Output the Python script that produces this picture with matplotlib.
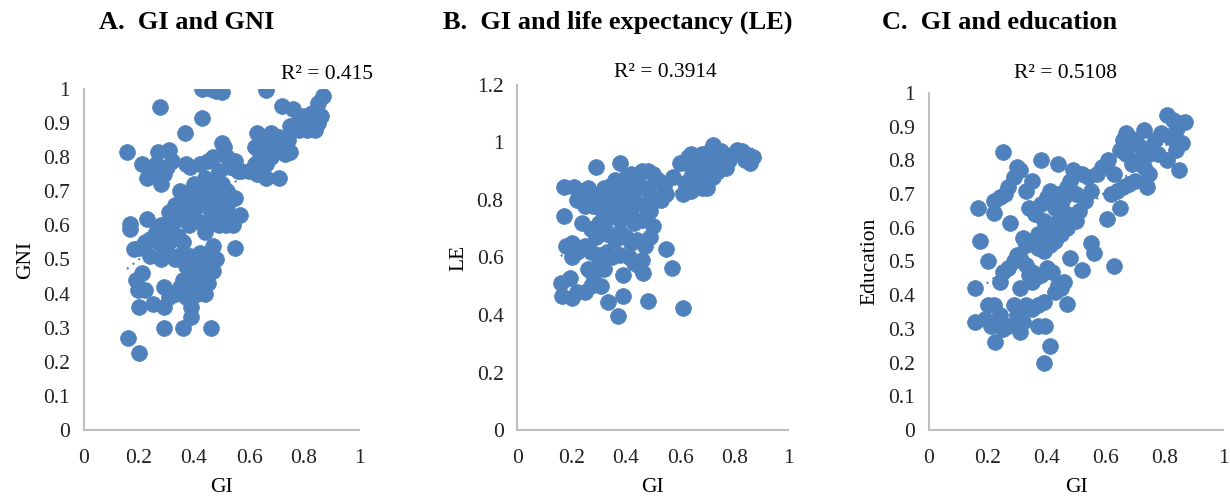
import matplotlib.pyplot as plt
import numpy as np

plt.rcParams['font.family'] = ['Liberation Serif', 'DejaVu Serif']

# ---------------- data ----------------
# A. GI and GNI
gi_a = [0.62, 0.63, 0.64, 0.65, 0.66, 0.67, 0.68, 0.68, 0.69, 0.70, 0.71, 0.72, 0.73, 0.66, 0.64, 0.62,
        0.66, 0.71, 0.75, 0.77, 0.78, 0.79, 0.80, 0.81, 0.82, 0.83, 0.84, 0.85, 0.86, 0.85, 0.87, 0.84,
        0.81, 0.78, 0.72, 0.76, 0.66, 0.74, 0.75,
        0.43, 0.46, 0.48, 0.50, 0.276, 0.43, 0.367,
        0.156, 0.21, 0.23, 0.25, 0.26, 0.27, 0.28, 0.30, 0.31, 0.32, 0.29,
        0.37, 0.385, 0.42, 0.45, 0.47, 0.50, 0.51, 0.52, 0.55, 0.57, 0.53, 0.49, 0.44, 0.40, 0.43, 0.46,
        0.48, 0.50, 0.52, 0.55, 0.56, 0.60, 0.63, 0.35, 0.37, 0.38, 0.40, 0.42, 0.44, 0.45, 0.46, 0.48,
        0.50, 0.52, 0.53, 0.345, 0.36, 0.38, 0.40, 0.42, 0.44, 0.47, 0.49, 0.515, 0.54, 0.567, 0.33,
        0.31, 0.39, 0.41,
        0.167, 0.167, 0.23, 0.26, 0.28, 0.30, 0.32, 0.34, 0.36, 0.31, 0.29, 0.27, 0.24, 0.22, 0.20, 0.18,
        0.24, 0.28, 0.30, 0.33, 0.34, 0.385, 0.40, 0.42, 0.45, 0.47, 0.48, 0.55, 0.37, 0.38, 0.40, 0.47,
        0.43, 0.36,
        0.19, 0.21, 0.22, 0.196, 0.20, 0.25, 0.29, 0.29, 0.31, 0.33, 0.35, 0.37, 0.39, 0.41, 0.42, 0.44,
        0.45, 0.39, 0.39, 0.29, 0.36, 0.46, 0.16, 0.20, 0.32]
gni = [0.83, 0.87, 0.84, 0.86, 0.82, 0.85, 0.87, 0.80, 0.84, 0.82, 0.86, 0.84, 0.81, 0.78, 0.80, 0.78,
       0.74, 0.74, 0.89, 0.89, 0.91, 0.90, 0.92, 0.90, 0.91, 0.93, 0.92, 0.90, 0.92, 0.96, 0.98, 0.88,
       0.88, 0.88, 0.95, 0.94, 0.997, 0.85, 0.815,
       1.0, 1.0, 0.995, 0.99, 0.947, 0.915, 0.87,
       0.815, 0.78, 0.74, 0.76, 0.78, 0.815, 0.72, 0.77, 0.82, 0.79, 0.75,
       0.78, 0.77, 0.78, 0.79, 0.80, 0.84, 0.83, 0.80, 0.79, 0.76, 0.77, 0.76, 0.74, 0.72, 0.70, 0.73,
       0.70, 0.72, 0.70, 0.68, 0.76, 0.76, 0.75, 0.70, 0.68, 0.66, 0.65, 0.66, 0.68, 0.66, 0.64, 0.67,
       0.64, 0.66, 0.63, 0.64, 0.62, 0.60, 0.62, 0.61, 0.58, 0.62, 0.60, 0.60, 0.60, 0.63, 0.66,
       0.64, 0.69, 0.71,
       0.605, 0.59, 0.62, 0.58, 0.60, 0.58, 0.60, 0.57, 0.55, 0.55, 0.53, 0.55, 0.56, 0.55, 0.535, 0.53,
       0.51, 0.50, 0.52, 0.50, 0.51, 0.51, 0.50, 0.52, 0.50, 0.54, 0.50, 0.535, 0.48, 0.46, 0.45, 0.465,
       0.47, 0.44,
       0.44, 0.46, 0.41, 0.41, 0.36, 0.37, 0.42, 0.36, 0.39, 0.40, 0.42, 0.39, 0.41, 0.40, 0.43, 0.40,
       0.43, 0.36, 0.33, 0.30, 0.30, 0.30, 0.27, 0.225, 0.40]

# B. GI and life expectancy
gi_b = [0.60, 0.62, 0.63, 0.64, 0.65, 0.66, 0.67, 0.68, 0.69, 0.70, 0.71, 0.72, 0.73, 0.74, 0.75, 0.76,
        0.78, 0.80, 0.81, 0.83, 0.85, 0.86, 0.87, 0.84, 0.62, 0.63, 0.64, 0.65, 0.66, 0.67, 0.68, 0.69,
        0.70, 0.71, 0.72, 0.73, 0.74, 0.75, 0.77, 0.61, 0.64, 0.70, 0.575,
        0.17, 0.21, 0.24, 0.26, 0.29, 0.38, 0.27, 0.30, 0.32, 0.34, 0.36, 0.38, 0.40, 0.42, 0.44, 0.46,
        0.48, 0.50, 0.52, 0.54, 0.55, 0.53, 0.35, 0.37, 0.39, 0.41, 0.43, 0.45, 0.47, 0.49, 0.51, 0.28,
        0.31, 0.33, 0.36, 0.40, 0.42, 0.44, 0.47, 0.49, 0.25, 0.22, 0.34, 0.38, 0.41, 0.43, 0.46, 0.50,
        0.17, 0.24, 0.27, 0.30, 0.32, 0.29, 0.33, 0.36, 0.38, 0.40, 0.42, 0.44, 0.47, 0.49, 0.55, 0.57,
        0.20, 0.22, 0.25, 0.27, 0.30, 0.33, 0.35, 0.38, 0.41, 0.43, 0.46, 0.30, 0.26, 0.32, 0.39, 0.465,
        0.45, 0.195, 0.16, 0.165, 0.20, 0.22, 0.25, 0.27, 0.31, 0.335, 0.39, 0.37, 0.48, 0.61, 0.28,
        0.18, 0.20]
le = [0.93, 0.93, 0.95, 0.96, 0.94, 0.92, 0.95, 0.96, 0.93, 0.95, 0.97, 0.99, 0.97, 0.96, 0.97, 0.95,
      0.94, 0.96, 0.975, 0.97, 0.955, 0.93, 0.95, 0.94, 0.86, 0.84, 0.88, 0.86, 0.90, 0.87, 0.84, 0.89,
      0.86, 0.91, 0.88, 0.92, 0.90, 0.93, 0.91, 0.82, 0.83, 0.84, 0.88,
      0.845, 0.845, 0.83, 0.84, 0.915, 0.93, 0.80, 0.82, 0.84, 0.85, 0.87, 0.86, 0.88, 0.89, 0.88, 0.90,
      0.90, 0.89, 0.87, 0.85, 0.82, 0.80, 0.81, 0.79, 0.82, 0.84, 0.83, 0.85, 0.84, 0.82, 0.80, 0.78,
      0.77, 0.78, 0.76, 0.78, 0.77, 0.79, 0.78, 0.76, 0.78, 0.80, 0.74, 0.73, 0.74, 0.72, 0.73, 0.71,
      0.745, 0.72, 0.70, 0.72, 0.70, 0.67, 0.68, 0.66, 0.69, 0.67, 0.65, 0.66, 0.64, 0.67, 0.63, 0.565,
      0.65, 0.62, 0.64, 0.62, 0.61, 0.62, 0.60, 0.61, 0.60, 0.58, 0.59, 0.58, 0.56, 0.56, 0.54, 0.545,
      0.57, 0.53, 0.51, 0.465, 0.46, 0.48, 0.48, 0.50, 0.50, 0.445, 0.465, 0.395, 0.45, 0.425, 0.54,
      0.64, 0.60]

# C. GI and education
gi_c = [0.81, 0.83, 0.85, 0.87, 0.84, 0.82, 0.79, 0.77, 0.75, 0.73, 0.86, 0.84, 0.85, 0.81, 0.78, 0.66,
        0.67, 0.68, 0.69, 0.70, 0.72, 0.65, 0.67, 0.69, 0.71, 0.73, 0.75, 0.74, 0.70, 0.68, 0.66, 0.64,
        0.62, 0.63, 0.61, 0.59, 0.57, 0.65,
        0.25, 0.38, 0.44, 0.30, 0.31, 0.29, 0.27, 0.26, 0.24, 0.22, 0.167, 0.22, 0.275, 0.173, 0.33, 0.35,
        0.34, 0.36, 0.38, 0.40, 0.41, 0.42, 0.43, 0.44, 0.45, 0.46, 0.47, 0.48, 0.49, 0.50, 0.52, 0.54,
        0.55, 0.53, 0.51, 0.50, 0.47, 0.46, 0.44, 0.42, 0.40, 0.39, 0.37, 0.35, 0.33, 0.605, 0.43, 0.45,
        0.41, 0.47,
        0.63, 0.48, 0.52, 0.47, 0.41, 0.39, 0.225, 0.157, 0.157, 0.37, 0.395, 0.56, 0.55, 0.20, 0.25, 0.27,
        0.29, 0.30, 0.31, 0.33, 0.35, 0.36, 0.38, 0.40, 0.42, 0.44, 0.45, 0.46, 0.43, 0.31, 0.24, 0.20,
        0.22, 0.19, 0.21, 0.24, 0.25, 0.27, 0.29, 0.30, 0.32, 0.33, 0.35, 0.37, 0.39, 0.31, 0.35, 0.34,
        0.39, 0.37, 0.32]
edu = [0.935, 0.92, 0.91, 0.915, 0.89, 0.87, 0.88, 0.86, 0.82, 0.89, 0.85, 0.83, 0.77, 0.80, 0.82, 0.86,
       0.88, 0.87, 0.85, 0.86, 0.84, 0.83, 0.82, 0.79, 0.80, 0.78, 0.76, 0.72, 0.74, 0.73, 0.72, 0.71,
       0.70, 0.76, 0.80, 0.78, 0.76, 0.66,
       0.825, 0.80, 0.79, 0.78, 0.77, 0.75, 0.72, 0.70, 0.69, 0.68, 0.66, 0.645, 0.615, 0.56, 0.71, 0.74,
       0.66, 0.64, 0.67, 0.69, 0.71, 0.68, 0.66, 0.70, 0.67, 0.69, 0.72, 0.74, 0.77, 0.70, 0.76, 0.75,
       0.71, 0.68, 0.65, 0.62, 0.64, 0.61, 0.62, 0.60, 0.58, 0.62, 0.58, 0.56, 0.55, 0.625, 0.56, 0.58,
       0.55, 0.60,
       0.487, 0.51, 0.475, 0.375, 0.25, 0.20, 0.26, 0.42, 0.32, 0.31, 0.31, 0.525, 0.555, 0.50, 0.47, 0.48,
       0.50, 0.52, 0.51, 0.49, 0.47, 0.45, 0.46, 0.48, 0.47, 0.43, 0.42, 0.44, 0.41, 0.42, 0.44, 0.37,
       0.37, 0.33, 0.31, 0.34, 0.30, 0.31, 0.37, 0.34, 0.32, 0.37, 0.36, 0.37, 0.38, 0.29, 0.44, 0.46,
       0.53, 0.54, 0.57]

blue = '#4F81BD'
grey = '#BFBFBF'

fig = plt.figure(figsize=(12.3, 4.98), dpi=100)

panels = [
    # x, y, axes rect, ymax, yticks, title, title x, ylabel, r2 text, r2 pos
    (gi_a, gni, [0.0683, 0.1365, 0.2236, 0.685], 1.0, np.arange(0, 1.01, 0.1),
     'A.  GI and GNI', 0.152, 'GNI', 'R² = 0.415', (0.266, 0.851)),
    (gi_b, le, [0.4207, 0.1365, 0.2203, 0.693], 1.2, np.arange(0, 1.21, 0.2),
     'B.  GI and life expectancy (LE)', 0.502, 'LE', 'R² = 0.3914', (0.541, 0.855)),
    (gi_c, edu, [0.7553, 0.1365, 0.2390, 0.677], 1.0, np.arange(0, 1.01, 0.1),
     'C.  GI and education', 0.813, 'Education', 'R² = 0.5108', (0.866, 0.853)),
]

for x, y, rect, ymax, yt, title, tx, ylab, r2, r2pos in panels:
    ax = fig.add_axes(rect)
    x = np.array(x)
    y = np.array(y)
    # linear trendline (dotted, mostly hidden under the points)
    k, b = np.polyfit(x, y, 1)
    xx = np.array([x.min(), x.max()])
    ax.plot(xx, k * xx + b, color=blue, lw=1.5, ls=(0, (1, 2.5)), zorder=1)
    ax.scatter(x, y, s=130, color=blue, edgecolors=blue, linewidths=0.5, zorder=2)

    ax.set_xlim(0, 1)
    ax.set_ylim(0, ymax)
    ax.set_xticks(np.arange(0, 1.01, 0.2))
    ax.set_xticklabels(['0', '0.2', '0.4', '0.6', '0.8', '1'])
    ax.set_yticks(yt)
    ax.set_yticklabels(['%g' % round(v, 1) for v in yt])
    ax.tick_params(length=0, labelsize=15.5, colors='#222222', pad=10)
    ax.tick_params(axis='x', pad=14)
    for s in ['top', 'right']:
        ax.spines[s].set_visible(False)
    for s in ['left', 'bottom']:
        ax.spines[s].set_color(grey)
        ax.spines[s].set_linewidth(1.5)
    ax.set_xlabel('GI', fontsize=15.5, labelpad=7)
    ax.set_ylabel(ylab, fontsize=15.5, labelpad=6)

    fig.text(tx, 0.955, title, ha='center', va='center', fontsize=19, fontweight='bold')
    fig.text(r2pos[0], r2pos[1], r2, ha='center', va='center', fontsize=15.5)

plt.savefig('out.png', dpi=100)
